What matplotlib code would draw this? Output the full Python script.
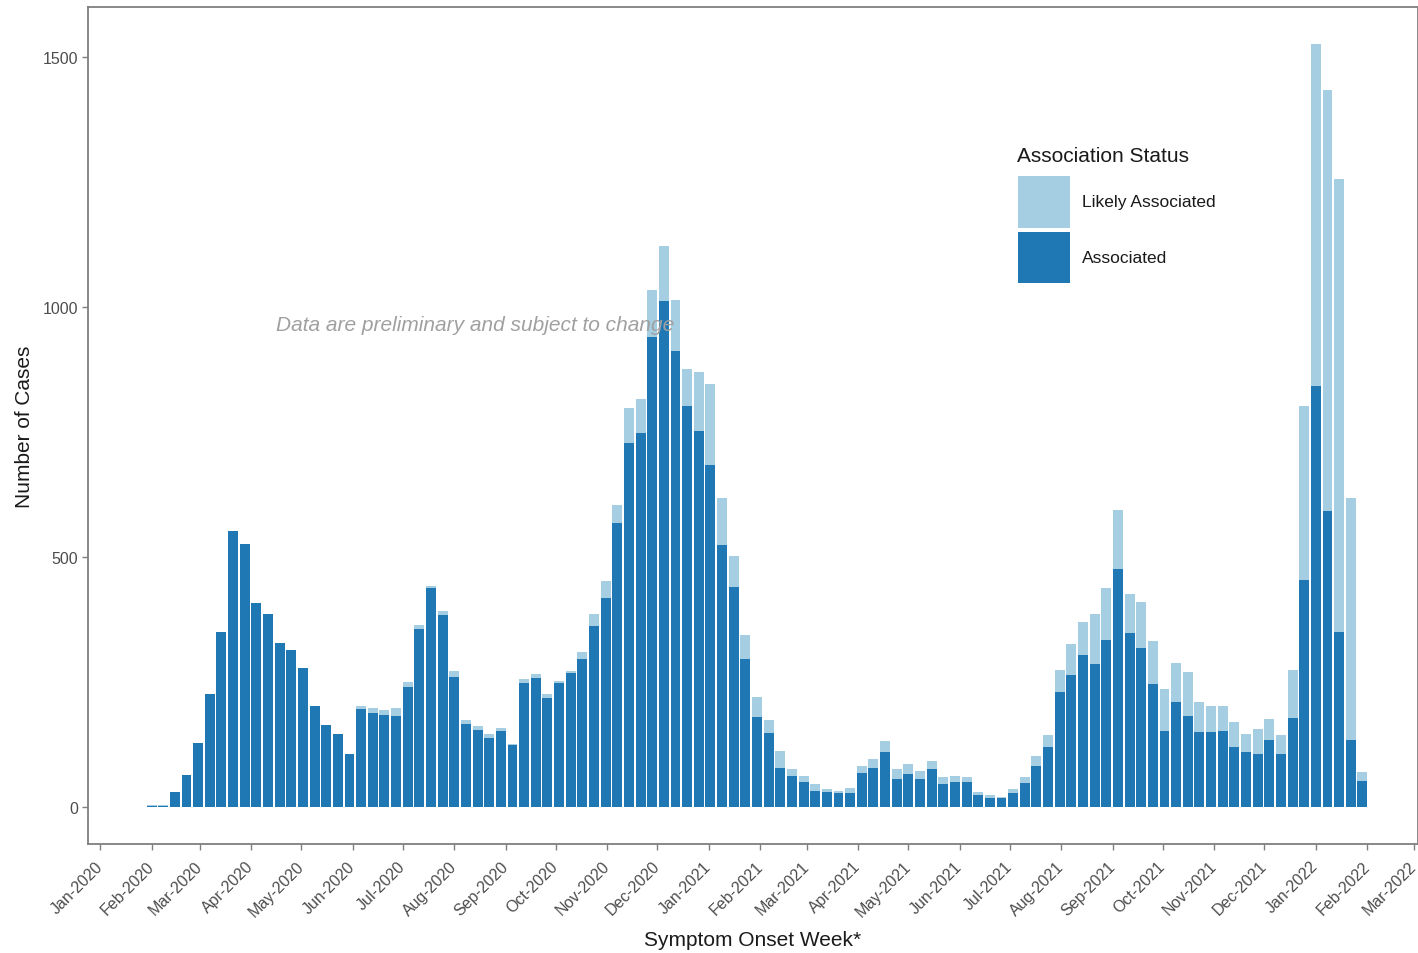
import numpy as np
import pandas as pd
import matplotlib
matplotlib.use("Agg")
import matplotlib.pyplot as plt
from matplotlib.patches import Patch

plt.rcParams['font.family'] = ['Liberation Sans', 'DejaVu Sans']

# weekly bins, symptom onset week (bar centres)
weeks = pd.date_range('2020-02-01', periods=105, freq='7D')

# total cases per week (associated + likely associated)
total = [4, 5, 31, 64, 129, 226, 351, 553, 527, 408,
         386, 328, 314, 279, 203, 165, 147, 106, 203, 199,
         194, 198, 251, 364, 443, 393, 273, 175, 163, 146,
         159, 127, 257, 266, 226, 253, 273, 311, 386, 453,
         604, 798, 817, 1034, 1123, 1014, 877, 871, 847, 618,
         503, 345, 221, 175, 113, 76, 63, 46, 37, 33,
         39, 83, 96, 133, 77, 87, 73, 93, 61, 63,
         61, 31, 25, 21, 36, 61, 102, 144, 275, 326,
         371, 386, 439, 595, 426, 411, 333, 236, 288, 271,
         211, 203, 203, 171, 147, 157, 177, 144, 274, 803,
         1526, 1434, 1256, 619, 70]

associated = [2, 3, 31, 64, 129, 226, 351, 553, 527, 408,
              386, 328, 314, 279, 203, 165, 147, 106, 197, 189,
              184, 183, 241, 356, 438, 384, 261, 166, 154, 139,
              153, 125, 249, 259, 219, 248, 268, 297, 363, 419,
              568, 729, 748, 941, 1013, 913, 803, 753, 684, 524,
              441, 296, 181, 148, 79, 63, 51, 33, 31, 28,
              28, 69, 79, 111, 56, 66, 56, 76, 46, 51,
              51, 25, 19, 19, 28, 48, 83, 121, 231, 264,
              304, 286, 334, 476, 349, 319, 246, 153, 211, 183,
              151, 151, 153, 121, 111, 106, 134, 106, 179, 455,
              842, 593, 350, 134, 52]

likely = [t - a for t, a in zip(total, associated)]

c_assoc = '#1f78b4'
c_likely = '#a6cee3'
grey_txt = '#4d4d4d'

fig = plt.figure(figsize=(14.18, 9.54), dpi=100)
ax = fig.add_axes([88/1418, 1-845/954, 1-88/1418, (845-8)/954])

ax.bar(weeks, associated, width=6.0, color=c_assoc, linewidth=0)
ax.bar(weeks, likely, bottom=associated, width=6.0, color=c_likely, linewidth=0)

x0 = pd.Timestamp('2020-01-01')
ppd = 1314/790.0
ax.set_xlim(x0 - pd.Timedelta(days=12/ppd), x0 + pd.Timedelta(days=(1418-100)/ppd))
ax.set_ylim(-74, 1600)

months = pd.date_range('2020-01-01', '2022-03-01', freq='MS')
ax.set_xticks(months)
ax.set_xticklabels([m.strftime('%b-%Y') for m in months], rotation=45,
                   ha='right', va='center', rotation_mode='anchor',
                   fontsize=11.5, color=grey_txt)
ax.set_yticks([0, 500, 1000, 1500])
ax.set_yticklabels(['0', '500', '1000', '1500'], fontsize=11.5, color=grey_txt)
ax.tick_params(axis='x', length=4, width=1, color='#7f7f7f', pad=10)
ax.tick_params(axis='y', length=4, width=1, color='#7f7f7f', pad=3)

for s in ax.spines.values():
    s.set_color('#7f7f7f')
    s.set_linewidth(1.3)

ax.set_xlabel('Symptom Onset Week*', fontsize=15, color='#1a1a1a', labelpad=8)
ax.set_ylabel('Number of Cases', fontsize=15, color='#1a1a1a', labelpad=6)

ax.text(pd.Timestamp('2020-04-16'), 965, 'Data are preliminary and subject to change',
        fontsize=15, style='italic', color='#a0a0a0', ha='left', va='center')

# legend title drawn on its own so the gap to the keys matches
fig.text(1017/1418, 1-156/954, 'Association Status', fontsize=15,
         color='#1a1a1a', ha='left', va='center')
handles = [Patch(facecolor=c_likely, edgecolor='none'),
           Patch(facecolor=c_assoc, edgecolor='none')]
leg = fig.legend(handles, ['Likely Associated', 'Associated'],
                 loc='upper left', bbox_to_anchor=(1018/1418, 1-177/954),
                 frameon=False, fontsize=12.5, handlelength=3.0,
                 handleheight=4.2, labelspacing=0.23, handletextpad=0.69,
                 borderpad=0, borderaxespad=0)
for t in leg.get_texts():
    t.set_color('#1a1a1a')

fig.savefig('out.png', dpi=100)
